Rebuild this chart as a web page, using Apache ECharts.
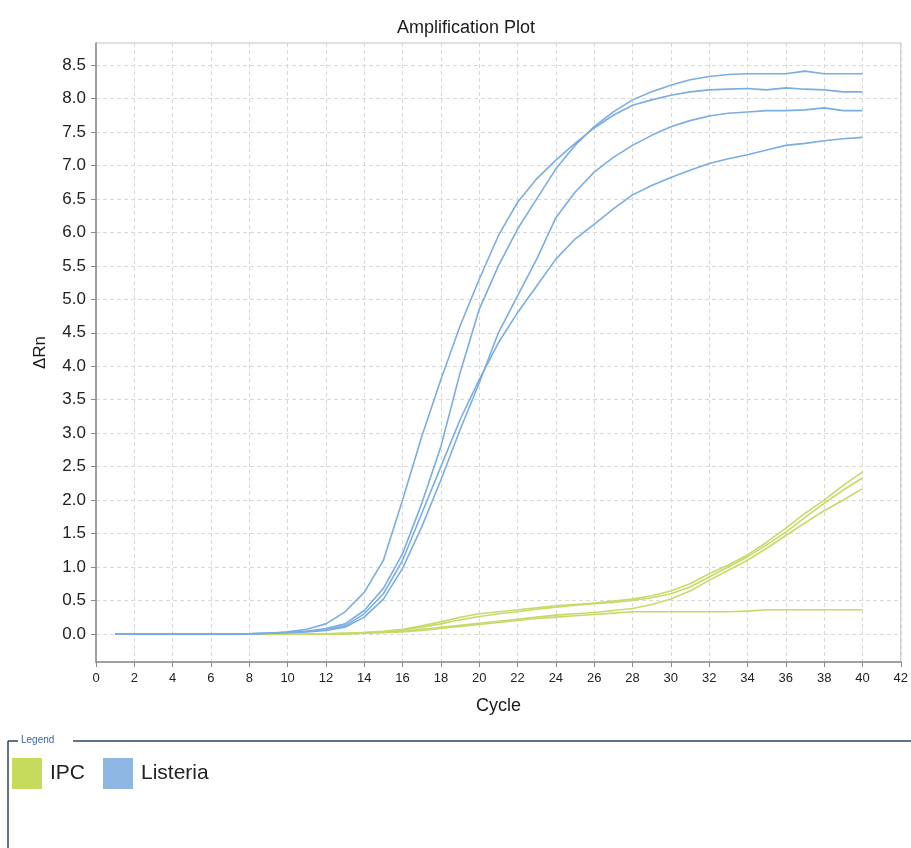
<!DOCTYPE html>
<html>
<head>
<meta charset="utf-8">
<script src="https://cdn.jsdelivr.net/npm/echarts@6/dist/echarts.min.js"></script>
<style>
html,body{margin:0;padding:0;background:#fff;}
#c{width:911px;height:848px;}
</style>
</head>
<body>
<div id="c"></div>
<script>
// ---- data ----
const cycles = [1,2,3,4,5,6,7,8,9,10,11,12,13,14,15,16,17,18,19,20,21,22,23,24,25,26,27,28,29,30,31,32,33,34,35,36,37,38,39,40];
const xTicks = [0,2,4,6,8,10,12,14,16,18,20,22,24,26,28,30,32,34,36,38,40,42];
const yTicks = [0,0.5,1,1.5,2,2.5,3,3.5,4,4.5,5,5.5,6,6.5,7,7.5,8,8.5];

const listeriaA = [0,0,0,0,0,0,0,0,0.01,0.03,0.07,0.15,0.33,0.62,1.1,2.0,2.95,3.8,4.6,5.3,5.95,6.45,6.8,7.08,7.33,7.56,7.75,7.9,7.98,8.05,8.1,8.13,8.14,8.15,8.13,8.16,8.14,8.13,8.1,8.1];
const listeriaB = [0,0,0,0,0,0,0,0,0.01,0.02,0.04,0.08,0.15,0.35,0.68,1.2,1.95,2.8,3.9,4.85,5.5,6.05,6.5,6.95,7.3,7.58,7.8,7.98,8.1,8.2,8.28,8.33,8.36,8.37,8.37,8.37,8.41,8.37,8.37,8.37];
const listeriaC = [0,0,0,0,0,0,0,0,0.01,0.02,0.03,0.05,0.1,0.25,0.52,0.98,1.6,2.3,3.05,3.75,4.5,5.05,5.6,6.22,6.6,6.9,7.12,7.3,7.45,7.58,7.67,7.74,7.78,7.8,7.82,7.82,7.83,7.86,7.82,7.82];
const listeriaD = [0,0,0,0,0,0,0,0,0.01,0.02,0.04,0.06,0.12,0.3,0.6,1.1,1.8,2.5,3.2,3.8,4.35,4.8,5.2,5.6,5.9,6.12,6.35,6.56,6.7,6.82,6.93,7.03,7.1,7.16,7.23,7.3,7.33,7.37,7.4,7.42];

const ipc1 = [0,0,0,0,0,0,0,0,0,0,0,0,0.01,0.02,0.04,0.07,0.12,0.18,0.25,0.3,0.33,0.36,0.39,0.42,0.44,0.46,0.49,0.52,0.57,0.64,0.75,0.9,1.03,1.18,1.37,1.58,1.8,2.0,2.22,2.42];
const ipc2 = [0,0,0,0,0,0,0,0,0,0,0,0,0.01,0.02,0.03,0.06,0.1,0.15,0.21,0.26,0.3,0.33,0.37,0.4,0.43,0.45,0.47,0.5,0.54,0.6,0.7,0.85,1.0,1.15,1.33,1.52,1.74,1.95,2.15,2.33];
const ipc3 = [0,0,0,0,0,0,0,0,0,0,0,0,0,0.01,0.02,0.04,0.07,0.1,0.13,0.16,0.19,0.22,0.25,0.28,0.3,0.32,0.35,0.38,0.44,0.52,0.64,0.8,0.95,1.1,1.28,1.47,1.66,1.84,2.0,2.17];
const ipc4 = [0,0,0,0,0,0,0,0,0,0,0,0,0,0.01,0.02,0.03,0.05,0.08,0.11,0.14,0.17,0.2,0.23,0.25,0.27,0.29,0.31,0.33,0.33,0.33,0.33,0.33,0.33,0.34,0.36,0.36,0.36,0.36,0.36,0.36];

const seriesNames = ['IPC','Listeria'];
const ipcGroup = [ipc1, ipc2, ipc3, ipc4];
const listeriaGroup = [listeriaA, listeriaB, listeriaC, listeriaD];

// ---- build ----
const GREEN = '#c6da5c', GREEN_LINE = '#c6da68';
const BLUE = '#8db6e3', BLUE_LINE = '#7aade2';
function pairs(arr){ return cycles.map((c,i)=>[c, arr[i]]); }
function mk(name, arr, col, lcol){
  return {
    name: name, type: 'line', data: pairs(arr), showSymbol: false, symbol: 'none',
    smooth: false, animation: false,
    itemStyle: {color: col},
    lineStyle: {color: lcol, width: 1.6}
  };
}
const series = [];
ipcGroup.forEach(a => series.push(mk(seriesNames[0], a, GREEN, GREEN_LINE)));
listeriaGroup.forEach(a => series.push(mk(seriesNames[1], a, BLUE, BLUE_LINE)));

const chart = echarts.init(document.getElementById('c'), null, {renderer: 'canvas'});
const FONT = 'Liberation Sans';
chart.setOption({
  animation: false,
  backgroundColor: '#ffffff',
  title: {
    text: 'Amplification Plot', left: 461, top: 14, textAlign: 'center',
    textStyle: {fontFamily: FONT, fontSize: 18, fontWeight: 'normal', color: '#1a1a1a'}
  },
  grid: {left: 96, right: 8, top: 43, bottom: 186, show: true, borderColor: '#c4c4c4', borderWidth: 1, backgroundColor: 'transparent'},
  legend: {
    data: seriesNames, left: 12, top: 758, orient: 'horizontal', padding: 0,
    icon: 'rect', itemWidth: 30, itemHeight: 31, itemGap: 18,
    textStyle: {fontFamily: FONT, fontSize: 21, color: '#222', padding: [0,0,0,3]}
  },
  xAxis: {
    type: 'value', min: xTicks[0], max: xTicks[xTicks.length-1], interval: 2,
    name: 'Cycle', nameLocation: 'middle', nameGap: 35,
    nameTextStyle: {fontFamily: FONT, fontSize: 18, color: '#1a1a1a'},
    axisLine: {show: true, onZero: false, lineStyle: {color: '#8a8a8a', width: 1.5}},
    axisTick: {show: true, length: 5, lineStyle: {color: '#8a8a8a'}},
    axisLabel: {fontFamily: FONT, fontSize: 13, color: '#222', margin: 10},
    splitLine: {show: true, lineStyle: {color: '#d9d9d9', type: [4,3], width: 1}}
  },
  yAxis: {
    type: 'value', min: -0.42, max: 8.83,
    name: 'ΔRn', nameLocation: 'middle', nameGap: 47, nameRotate: 90,
    nameTextStyle: {fontFamily: FONT, fontSize: 17, color: '#1a1a1a'},
    axisLine: {show: true, onZero: false, lineStyle: {color: '#8a8a8a', width: 1.5}},
    axisTick: {show: true, length: 5, lineStyle: {color: '#8a8a8a'}, customValues: yTicks},
    axisLabel: {fontFamily: FONT, fontSize: 17, color: '#222', margin: 10, customValues: yTicks,
      formatter: v => Number(v).toFixed(1)},
    splitLine: {show: true, lineStyle: {color: '#d9d9d9', type: [4,3], width: 1}}
  },
  graphic: [
    {type: 'line', shape: {x1: 8, y1: 741, x2: 18, y2: 741}, style: {stroke: '#2b4560', lineWidth: 1.5}},
    {type: 'line', shape: {x1: 73, y1: 741, x2: 911, y2: 741}, style: {stroke: '#2b4560', lineWidth: 1.5}},
    {type: 'line', shape: {x1: 8, y1: 741, x2: 8, y2: 848}, style: {stroke: '#2b4560', lineWidth: 1.5}},
    {type: 'text', left: 21, top: 735, style: {text: 'Legend', fill: '#3567a8', font: '10px Liberation Sans'}}
  ],
  series: series
});
</script>
</body>
</html>
